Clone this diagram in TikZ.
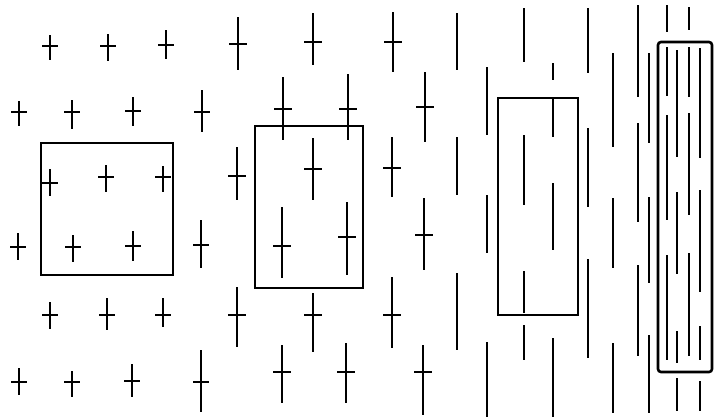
\documentclass[tikz,border=0pt]{standalone}
\usepackage{tikz}

\begin{document}
\begin{tikzpicture}[
  x=1pt,y=-1pt,
  bar/.style={line width=2pt,black},
  frame/.style={line width=2.6pt,black}
]
\useasboundingbox (0,0) rectangle (714,418);
% crosses left field: x / bar height / top / bottom
\foreach \x/\yb/\yt/\ye in {50/46/35/60, 108/46/34/61, 166/45/30/59,
    19/112/101/126, 72/112/100/129, 133/111/97/126, 202/112/90/132,
    50/183/169/196, 106/177/165/192, 163/177/166/192,
    18/247/233/260, 73/247/235/262, 133/246/231/261, 201/245/220/268,
    50/315/302/329, 107/315/298/330, 163/315/298/327,
    19/382/368/395, 72/382/371/397, 132/381/364/397, 201/382/350/412}
  \draw[bar] (\x,\yt) -- (\x,\ye) (\x-8,\yb) -- (\x+8,\yb);
% crosses second field
\foreach \x/\yb/\yt/\ye in {238/44/17/70, 313/42/13/65, 393/42/12/72,
    283/109/77/140, 348/109/74/140, 425/107/72/142,
    237/176/147/200, 313/169/138/200, 392/168/137/197,
    282/246/207/278, 347/237/202/275, 424/235/198/270,
    237/315/287/347, 313/315/293/352, 392/315/277/348,
    282/372/345/403, 346/372/343/403, 423/372/345/415}
  \draw[bar] (\x,\yt) -- (\x,\ye) (\x-9,\yb) -- (\x+9,\yb);
% plain bars third field
\foreach \x/\yt/\ye in {457/13/70, 457/137/195, 457/273/350,
    487/67/135, 487/195/253, 487/342/417,
    524/8/62, 524/135/205, 524/271/313, 524/325/360,
    553/63/80, 553/97/137, 553/183/250, 553/338/417,
    588/8/73, 588/128/207, 588/259/358}
  \draw[bar] (\x,\yt) -- (\x,\ye);
% plain bars fourth field
\foreach \x/\yt/\ye in {613/53/147, 613/198/268, 613/343/413,
    638/5/97, 638/123/222, 638/265/356,
    649/53/143, 649/197/283, 649/335/413,
    667/5/32, 667/47/96, 667/115/220, 667/255/360,
    677/50/157, 677/192/274, 677/331/363, 677/378/411,
    689/7/30, 689/47/97, 689/113/215, 689/253/356,
    700/48/158, 700/190/292, 700/326/360, 700/381/411}
  \draw[bar] (\x,\yt) -- (\x,\ye);
% frames
\draw[frame] (41,143) rectangle (173,275);
\draw[frame] (255,126) rectangle (363,288);
\draw[frame] (498,98) rectangle (578,315);
\draw[frame,rounded corners=3pt] (658,42) rectangle (712,372);
\end{tikzpicture}
\end{document}
